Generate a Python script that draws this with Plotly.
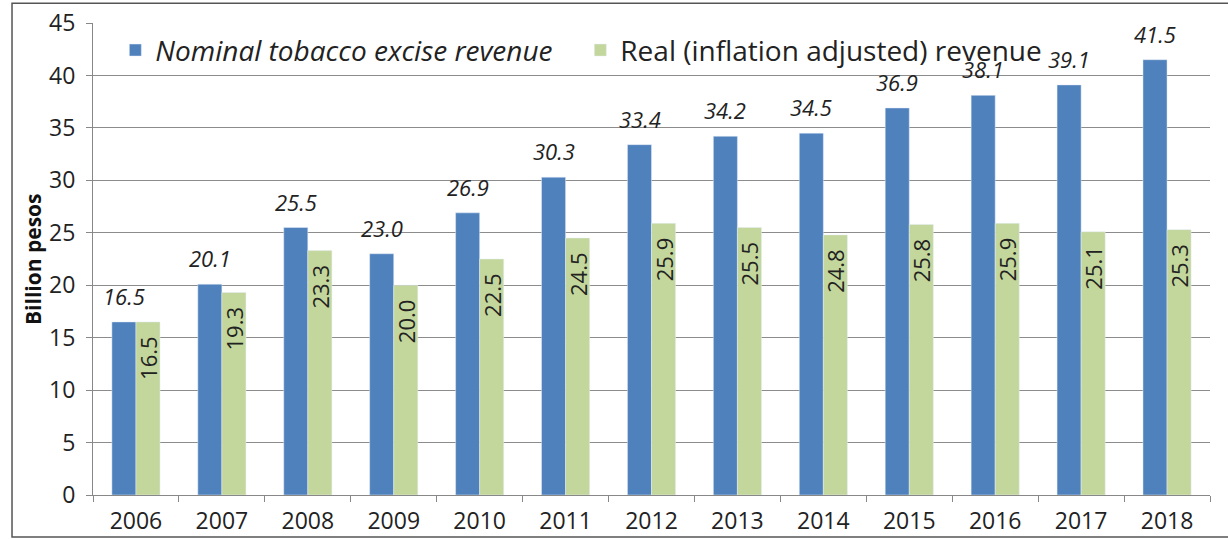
import plotly.graph_objects as go

years = ["2006", "2007", "2008", "2009", "2010", "2011", "2012", "2013", "2014", "2015", "2016", "2017", "2018"]
nominal = [16.5, 20.1, 25.5, 23.0, 26.9, 30.3, 33.4, 34.2, 34.5, 36.9, 38.1, 39.1, 41.5]
real = [16.5, 19.3, 23.3, 20.0, 22.5, 24.5, 25.9, 25.5, 24.8, 25.8, 25.9, 25.1, 25.3]

FONT = "Open Sans, sans-serif"
fig = go.Figure()
fig.add_trace(go.Bar(
    x=years, y=nominal, name="<i>Nominal tobacco excise revenue</i>",
    marker=dict(color="#4F81BD"),
))
fig.add_trace(go.Bar(
    x=years, y=real, name="Real (inflation adjusted) revenue",
    marker=dict(color="#C3D69B"),
    text=[f"{v:.1f}&nbsp;&nbsp;" for v in real], textposition="inside", insidetextanchor="end",
    textangle=-90, textfont=dict(size=22, color="#222222", family=FONT),
))
# nominal value labels: placed on category index of each year (category axis), shifted onto the blue bar
annotations = [dict(x=i, y=v, xref="x", yref="y", text=f"<i>{v:.1f}</i>", showarrow=False,
                    xanchor="center", yanchor="bottom", xshift=-12, yshift=9,
                    font=dict(size=22, color="#222222", family=FONT))
               for i, v in enumerate(nominal)]
annotations.append(dict(text="<b>Billion pesos</b>", xref="paper", yref="paper", x=-0.0537, y=0.5,
                        textangle=-90, showarrow=False, font=dict(size=21, color="#111111"),
                        xanchor="center", yanchor="middle"))
fig.update_layout(
    width=1228, height=539,
    margin=dict(l=93, r=18, t=23, b=44, autoexpand=False),
    paper_bgcolor="white", plot_bgcolor="white",
    barmode="group", bargap=0.44, bargroupgap=0,
    font=dict(family=FONT, size=20, color="#222222"),
    showlegend=True,
    legend=dict(orientation="h", x=0.02, y=0.995, xanchor="left", yanchor="top",
                bgcolor="rgba(0,0,0,0)", font=dict(size=28), itemwidth=30,
                entrywidth=420, entrywidthmode="pixels", tracegroupgap=0),
    uniformtext=dict(mode="show", minsize=22),
    shapes=[dict(type="rect", xref="paper", yref="paper", x0=-0.0725, x1=1.03, y0=-0.089, y1=1.042,
                 line=dict(color="#555555", width=1.5))],
    annotations=annotations,
)
fig.update_xaxes(type="category", range=[-0.5, len(years) - 0.5], showline=True, linecolor="#888888",
                 ticks="outside", tickson="boundaries", ticklen=6, tickcolor="#888888",
                 tickfont=dict(size=23), ticklabelstandoff=5, automargin=False)
fig.update_yaxes(range=[0, 45], dtick=5, showgrid=True, gridcolor="#8c8c8c", gridwidth=1,
                 showline=True, linecolor="#888888", ticks="outside", ticklen=6, tickcolor="#888888",
                 tickfont=dict(size=23), ticklabelstandoff=6, zeroline=False, automargin=False)
fig.write_html("out.html", config={"displayModeBar": False},
               post_script="document.body.style.margin='0';")
